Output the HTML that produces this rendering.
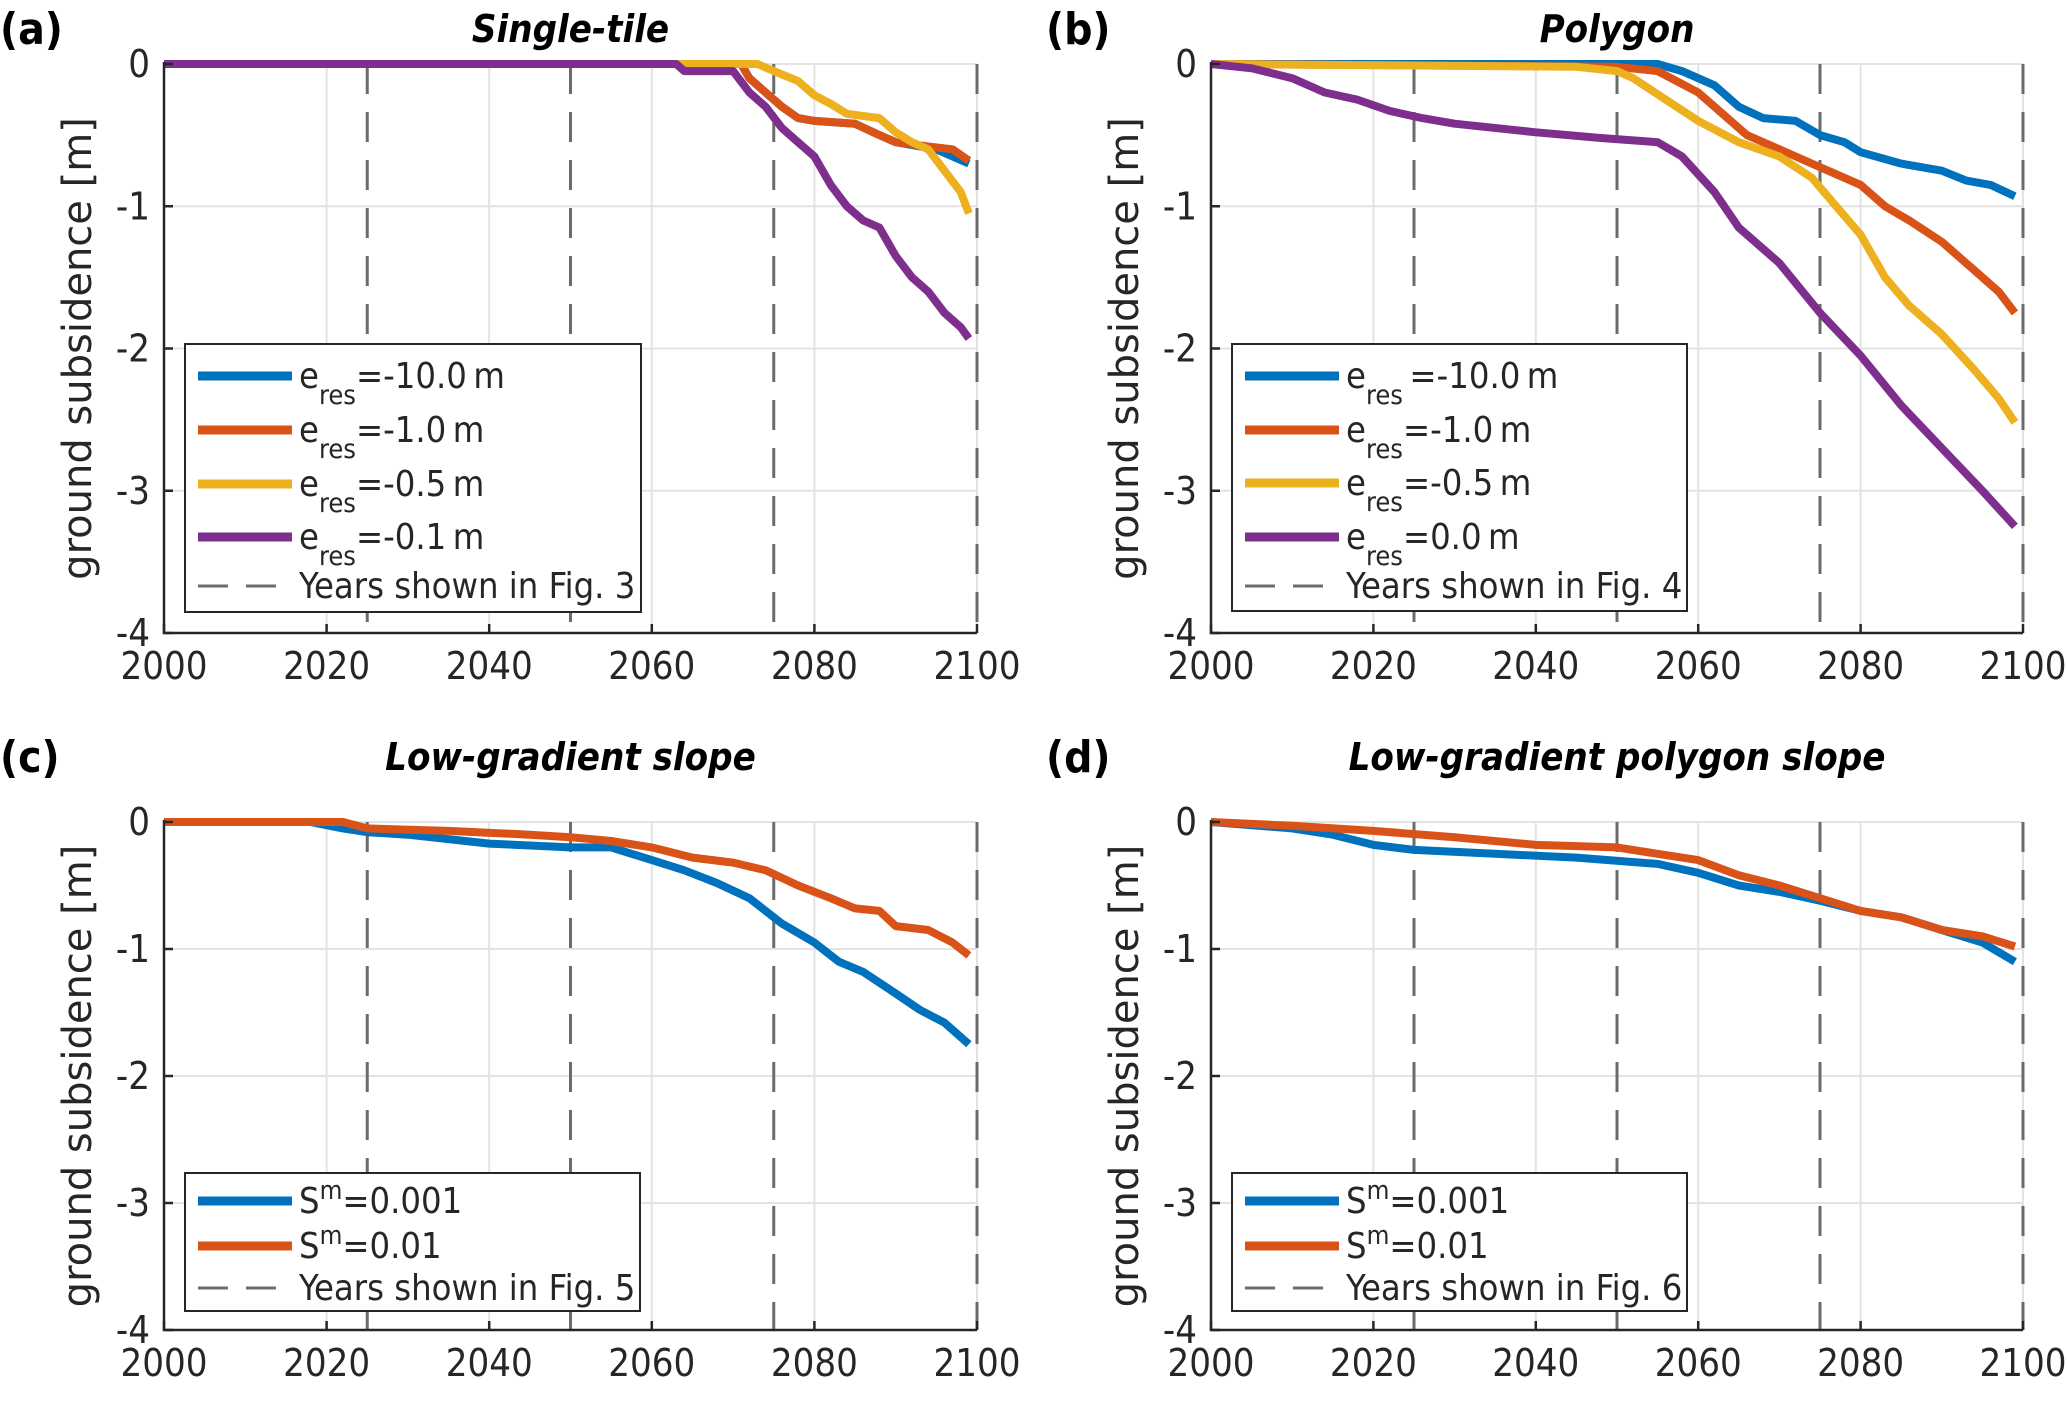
<!DOCTYPE html>
<html><head><meta charset="utf-8">
<style>
html,body{margin:0;padding:0;background:#fff}
svg{display:block}
text{font-family:"DejaVu Sans","Liberation Sans",sans-serif}
text.cond{font-family:"DejaVu Sans Condensed","Liberation Sans Narrow","Liberation Sans",sans-serif}
</style></head>
<body>
<svg id="fig" width="2067" height="1426" viewBox="0 0 2067 1426" xmlns="http://www.w3.org/2000/svg"></svg>
<script>
// ---- data ----
const aYearsPurple=[2000,2063,2064,2070,2072,2074,2076,2078,2080,2082,2084,2086,2088,2090,2092,2094,2096,2098,2099];
const aPurple=[0,0,-0.05,-0.05,-0.2,-0.3,-0.45,-0.55,-0.65,-0.85,-1.0,-1.1,-1.15,-1.35,-1.5,-1.6,-1.75,-1.85,-1.93];
const aYearsOrange=[2000,2071,2072,2074,2076,2078,2080,2085,2088,2090,2094,2097,2099];
const aOrange=[0,0,-0.1,-0.2,-0.3,-0.38,-0.4,-0.42,-0.5,-0.55,-0.58,-0.6,-0.68];
const aYearsYellow=[2000,2073,2075,2078,2080,2082,2084,2088,2090,2092,2094,2096,2098,2099];
const aYellow=[0,0,-0.05,-0.12,-0.22,-0.28,-0.35,-0.38,-0.48,-0.55,-0.6,-0.75,-0.9,-1.05];
const aYearsBlue=[2000,2071,2072,2074,2076,2078,2080,2085,2088,2090,2095,2099];
const aBlue=[0,0,-0.1,-0.2,-0.3,-0.38,-0.4,-0.42,-0.5,-0.55,-0.6,-0.7];

const bYearsBlue=[2000,2055,2058,2062,2065,2068,2072,2075,2078,2080,2085,2090,2093,2096,2099];
const bBlue=[0,0,-0.05,-0.15,-0.3,-0.38,-0.4,-0.5,-0.55,-0.62,-0.7,-0.75,-0.82,-0.85,-0.93];
const bYearsOrange=[2000,2050,2055,2060,2063,2066,2070,2074,2076,2080,2083,2086,2090,2094,2097,2099];
const bOrange=[0,-0.02,-0.05,-0.2,-0.35,-0.5,-0.6,-0.7,-0.75,-0.85,-1.0,-1.1,-1.25,-1.45,-1.6,-1.75];
const bYearsYellow=[2000,2045,2050,2052,2056,2060,2065,2070,2074,2077,2080,2083,2086,2090,2094,2097,2099];
const bYellow=[0,-0.02,-0.05,-0.1,-0.25,-0.4,-0.55,-0.65,-0.8,-1.0,-1.2,-1.5,-1.7,-1.9,-2.15,-2.35,-2.52];
const bYearsPurple=[2000,2005,2010,2014,2018,2022,2026,2030,2040,2048,2055,2058,2062,2065,2070,2075,2080,2085,2090,2095,2099];
const bPurple=[0,-0.03,-0.1,-0.2,-0.25,-0.33,-0.38,-0.42,-0.48,-0.52,-0.55,-0.65,-0.9,-1.15,-1.4,-1.75,-2.05,-2.4,-2.7,-3.0,-3.25];

const cYearsBlue=[2000,2018,2022,2025,2030,2040,2050,2055,2060,2064,2068,2072,2076,2080,2083,2086,2090,2093,2096,2099];
const cBlue=[0,0,-0.05,-0.08,-0.1,-0.17,-0.2,-0.2,-0.3,-0.38,-0.48,-0.6,-0.8,-0.95,-1.1,-1.18,-1.35,-1.48,-1.58,-1.75];
const cYearsOrange=[2000,2022,2025,2035,2045,2050,2055,2060,2065,2070,2074,2078,2082,2085,2088,2090,2094,2097,2099];
const cOrange=[0,0,-0.05,-0.07,-0.1,-0.12,-0.15,-0.2,-0.28,-0.32,-0.38,-0.5,-0.6,-0.68,-0.7,-0.82,-0.85,-0.95,-1.05];

const dYearsBlue=[2000,2010,2015,2020,2025,2035,2045,2055,2060,2065,2070,2075,2080,2085,2090,2095,2099];
const dBlue=[0,-0.05,-0.1,-0.18,-0.22,-0.25,-0.28,-0.33,-0.4,-0.5,-0.55,-0.62,-0.7,-0.75,-0.85,-0.95,-1.1];
const dYearsOrange=[2000,2010,2020,2030,2040,2050,2055,2060,2065,2070,2075,2080,2085,2090,2095,2099];
const dOrange=[0,-0.03,-0.07,-0.12,-0.18,-0.2,-0.25,-0.3,-0.42,-0.5,-0.6,-0.7,-0.75,-0.85,-0.9,-0.98];

const xTicks=[2000,2020,2040,2060,2080,2100];
const yTicks=[0,-1,-2,-3,-4];
const dashYears=[2025,2050,2075,2100];

const NS="http://www.w3.org/2000/svg";
const svg=document.getElementById('fig');
const C={blue:'#0072BD',orange:'#D95319',yellow:'#EDB120',purple:'#7E2F8E'};
function el(tag,attrs,parent){const e=document.createElementNS(NS,tag);for(const k in attrs)e.setAttribute(k,attrs[k]);(parent||svg).appendChild(e);return e;}

function panel(p){
  const g=el('g',{});
  
  
  const X=v=>p.x0+(v-2000)/100*(p.x1-p.x0);
  const Y=v=>p.y0+(-v)/4*(p.y4-p.y0);
  xTicks.forEach(t=>{const l=el('line',{x1:X(t),x2:X(t),y1:p.y0,y2:p.y4,stroke:'#e3e3e3','stroke-width':2},g);
    });
  yTicks.forEach(t=>{const l=el('line',{x1:p.x0,x2:p.x1,y1:Y(t),y2:Y(t),stroke:'#e3e3e3','stroke-width':2},g);
    });
  dashYears.forEach(t=>{const l=el('line',{x1:X(t),x2:X(t),y1:p.y0,y2:p.y4,stroke:'#6b6b6b','stroke-width':3,'stroke-dasharray':'30,18'},g);
    });
  p.series.forEach(s=>{
    const pts=s.xs.map((x,i)=>X(x).toFixed(1)+','+Y(s.ys[i]).toFixed(1)).join(' ');
    const l=el('polyline',{points:pts,fill:'none',stroke:s.c,'stroke-width':8,'stroke-linejoin':'round'},g);
    
  });
  const ax=el('path',{d:`M${p.x0},${p.y0-2}V${p.y4}H${p.x1}`,fill:'none',stroke:'#262626','stroke-width':2.5},g);
  
  xTicks.forEach(t=>{el('line',{x1:X(t),x2:X(t),y1:p.y4,y2:p.y4-9,stroke:'#262626','stroke-width':2.5},g);
    const tx=el('text',{class:'cond',x:X(t),y:p.y4+46,'font-size':38,'text-anchor':'middle',fill:'#262626'},g);tx.textContent=t;
    });
  yTicks.forEach(t=>{el('line',{x1:p.x0,x2:p.x0+9,y1:Y(t),y2:Y(t),stroke:'#262626','stroke-width':2.5},g);
    const tx=el('text',{class:'cond',x:p.x0-14,y:Y(t)+13,'font-size':38,'text-anchor':'end',fill:'#262626'},g);tx.textContent=t;
    });
  const yl=el('text',{x:0,y:0,'font-size':40,'text-anchor':'middle',fill:'#262626',transform:`translate(${p.x0-73},${(p.y0+p.y4)/2}) rotate(-90)`},g);
  yl.textContent='ground subsidence [m]';
  const tt=el('text',{class:'cond',x:(p.x0+p.x1)/2,y:p.ty,'font-size':38,'font-weight':'bold','font-style':'italic','text-anchor':'middle',fill:'#000'},g);
  tt.textContent=p.title;
  const lt=el('text',{class:'cond',x:p.lx,y:p.ty+2,'font-size':44,'font-weight':'bold',fill:'#000'},g);
  lt.textContent='('+p.id+')';
  const L=p.leg;
  const lg=el('g',{},g);
  el('rect',{x:L.x,y:L.y,width:L.w,height:L.h,fill:'#fff',stroke:'#262626','stroke-width':2},lg);
  L.items.forEach(it=>{
    const eg=el('g',{},lg);
    if(it.dash) el('line',{x1:L.x+13,x2:L.x+107,y1:it.y,y2:it.y,stroke:'#6b6b6b','stroke-width':3,'stroke-dasharray':'30,18'},eg);
    else el('line',{x1:L.x+13,x2:L.x+107,y1:it.y,y2:it.y,stroke:it.c,'stroke-width':9},eg);
    const t=el('text',{class:'cond',x:L.x+114,y:it.y+12,'font-size':36,fill:'#262626'},eg);
    t.innerHTML=it.html;
  });
}
function eres(sub,val,sp){return `e<tspan font-size="27" dy="16">res</tspan><tspan dy="-16">${sp?'\u2009':''}=${val}\u2009m</tspan>`;}
function sm(val){return `S<tspan font-size="26" dy="-14">m</tspan><tspan dy="14">=${val}</tspan>`;}
panel({id:'a',title:'Single-tile',x0:164,x1:977,y0:64,y4:633,ty:42,lx:0,
  series:[{n:'blue',xs:aYearsBlue,ys:aBlue,c:C.blue},{n:'orange',xs:aYearsOrange,ys:aOrange,c:C.orange},{n:'yellow',xs:aYearsYellow,ys:aYellow,c:C.yellow},{n:'purple',xs:aYearsPurple,ys:aPurple,c:C.purple}],
  leg:{x:185,y:344,w:456,h:268,items:[{c:C.blue,y:376,html:eres(0,'-10.0')},{c:C.orange,y:430,html:eres(0,'-1.0')},{c:C.yellow,y:484,html:eres(0,'-0.5')},{c:C.purple,y:537,html:eres(0,'-0.1')},{dash:1,y:586,html:'Years shown in Fig. 3'}]}});
panel({id:'b',title:'Polygon',x0:1211,x1:2023,y0:64,y4:633,ty:42,lx:1046,
  series:[{n:'blue',xs:bYearsBlue,ys:bBlue,c:C.blue},{n:'orange',xs:bYearsOrange,ys:bOrange,c:C.orange},{n:'yellow',xs:bYearsYellow,ys:bYellow,c:C.yellow},{n:'purple',xs:bYearsPurple,ys:bPurple,c:C.purple}],
  leg:{x:1232,y:344,w:455,h:267,items:[{c:C.blue,y:376,html:eres(0,'-10.0',1)},{c:C.orange,y:430,html:eres(0,'-1.0')},{c:C.yellow,y:483,html:eres(0,'-0.5')},{c:C.purple,y:537,html:eres(0,'0.0')},{dash:1,y:586,html:'Years shown in Fig. 4'}]}});
panel({id:'c',title:'Low-gradient slope',x0:164,x1:977,y0:822,y4:1330,ty:770,lx:0,
  series:[{n:'blue',xs:cYearsBlue,ys:cBlue,c:C.blue},{n:'orange',xs:cYearsOrange,ys:cOrange,c:C.orange}],
  leg:{x:185,y:1173,w:455,h:138,items:[{c:C.blue,y:1201,html:sm('0.001')},{c:C.orange,y:1246,html:sm('0.01')},{dash:1,y:1288,html:'Years shown in Fig. 5'}]}});
panel({id:'d',title:'Low-gradient polygon slope',x0:1211,x1:2023,y0:822,y4:1330,ty:770,lx:1046,
  series:[{n:'blue',xs:dYearsBlue,ys:dBlue,c:C.blue},{n:'orange',xs:dYearsOrange,ys:dOrange,c:C.orange}],
  leg:{x:1232,y:1173,w:455,h:138,items:[{c:C.blue,y:1201,html:sm('0.001')},{c:C.orange,y:1246,html:sm('0.01')},{dash:1,y:1288,html:'Years shown in Fig. 6'}]}});
</script>
</body></html>
